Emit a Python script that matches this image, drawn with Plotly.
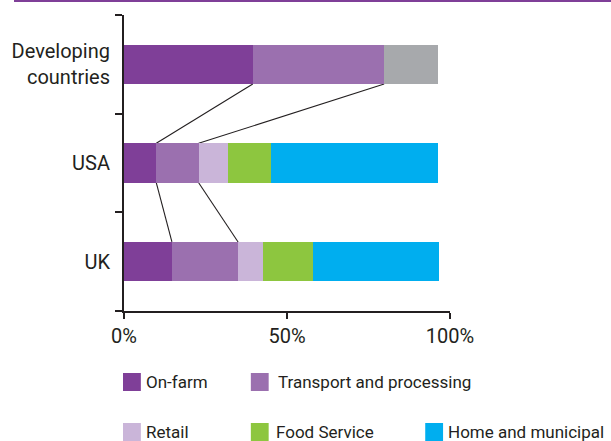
import plotly.graph_objects as go

# ---- data -------------------------------------------------------------
regions = ["Developing countries", "USA", "UK"]
region_labels = ["Developing<br>countries", "USA", "UK"]

stages = ["On-farm", "Transport and processing", "Retail", "Food Service",
          "Home and municipal"]
stage_colors = ["#7F3F98", "#9B70AF", "#CAB5D9", "#8DC63F", "#00AEEF"]

# share of food loss (%) by stage, per region
on_farm = [39.5, 9.9, 14.7]
transport = [40.3, 13.0, 20.3]
retail = [0, 9.1, 7.6]
food_service = [0, 13.0, 15.5]
home = [0, 51.3, 38.6]
# developing countries: remaining stages not broken down
other = [16.4, 0, 0]
other_color = "#A7A9AC"

x_ticks = [0, 50, 100]
x_tick_labels = ["0%", "50%", "100%"]

# ---- layout geometry (pixels) ----------------------------------------
W, H = 611, 441
L, R, T, B = 121, 161, 15, 130
PW, PH = W - L - R, H - T - B
TEXT = "#231F20"
FONT = "Roboto"
BAR_W = 0.4


def px_x(px):
    return (px - L) / PW


def px_y(py):
    return (H - B - py) / PH


fig = go.Figure()

series = [on_farm, transport, retail, food_service, home]
for name, vals, col in zip(stages, series, stage_colors):
    fig.add_trace(go.Bar(
        y=regions, x=vals, name=name, orientation="h",
        marker=dict(color=col, line=dict(width=0)),
        width=BAR_W, showlegend=False,
    ))
fig.add_trace(go.Bar(
    y=regions, x=other, name="Other stages", orientation="h",
    marker=dict(color=other_color, line=dict(width=0)),
    width=BAR_W, showlegend=False,
))

# connector lines between cumulative stage boundaries of adjacent bars
def cum(i, k):
    return sum(s[i] for s in series[:k + 1])

for top_i in (0, 1):
    bot_i = top_i + 1
    for k in (0, 1):
        fig.add_shape(
            type="line", xref="x", yref="y",
            x0=cum(top_i, k), y0=top_i + BAR_W / 2,
            x1=cum(bot_i, k), y1=bot_i - BAR_W / 2,
            line=dict(color=TEXT, width=1.1),
            layer="below",
        )

# thin accent rule along the top edge
fig.add_shape(
    type="rect", xref="paper", yref="paper",
    x0=px_x(10), x1=px_x(W + 2), y0=px_y(2), y1=px_y(-1),
    fillcolor="#7F3F98", line=dict(width=0),
)

# legend: swatches and labels
legend_items = [
    # (stage index, swatch left px, text left px, row center px)
    (0, 120, 141, 382),
    (1, 249, 274, 382),
    (2, 120, 141, 432),
    (3, 249, 272, 432),
    (4, 425, 446, 432),
]
SW = 18
for idx, sx, tx, cy in legend_items:
    fig.add_shape(
        type="rect", xref="paper", yref="paper",
        x0=px_x(sx), x1=px_x(sx + SW),
        y0=px_y(cy + SW / 2), y1=px_y(cy - SW / 2),
        fillcolor=stage_colors[idx], line=dict(width=0),
    )
    fig.add_annotation(
        xref="paper", yref="paper", x=px_x(tx), y=px_y(cy),
        xanchor="left", yanchor="middle", showarrow=False,
        text=stages[idx], font=dict(family=FONT, size=17, color=TEXT),
    )

fig.update_layout(
    width=W, height=H,
    margin=dict(l=L, r=R, t=T, b=B, pad=0),
    barmode="stack",
    plot_bgcolor="white", paper_bgcolor="white",
    font=dict(family=FONT, color=TEXT),
    bargap=0.6,
)
fig.update_xaxes(
    range=[0, 100], tickvals=x_ticks, ticktext=x_tick_labels,
    showgrid=False, zeroline=False,
    showline=True, linecolor=TEXT, linewidth=2,
    ticks="outside", ticklen=6, tickwidth=2, tickcolor=TEXT,
    tickfont=dict(family=FONT, size=20, color=TEXT),
    fixedrange=True,
)
fig.update_yaxes(
    type="category", categoryorder="array", categoryarray=regions,
    tickvals=regions, ticktext=region_labels,
    range=[2.5, -0.5],
    showgrid=False, zeroline=False,
    showline=True, linecolor=TEXT, linewidth=2,
    ticks="outside", ticklen=7, tickwidth=2, tickcolor=TEXT,
    tickson="boundaries", ticklabelstandoff=8,
    tickfont=dict(family=FONT, size=20, color=TEXT),
    fixedrange=True,
)

fig.write_html("out.html")
